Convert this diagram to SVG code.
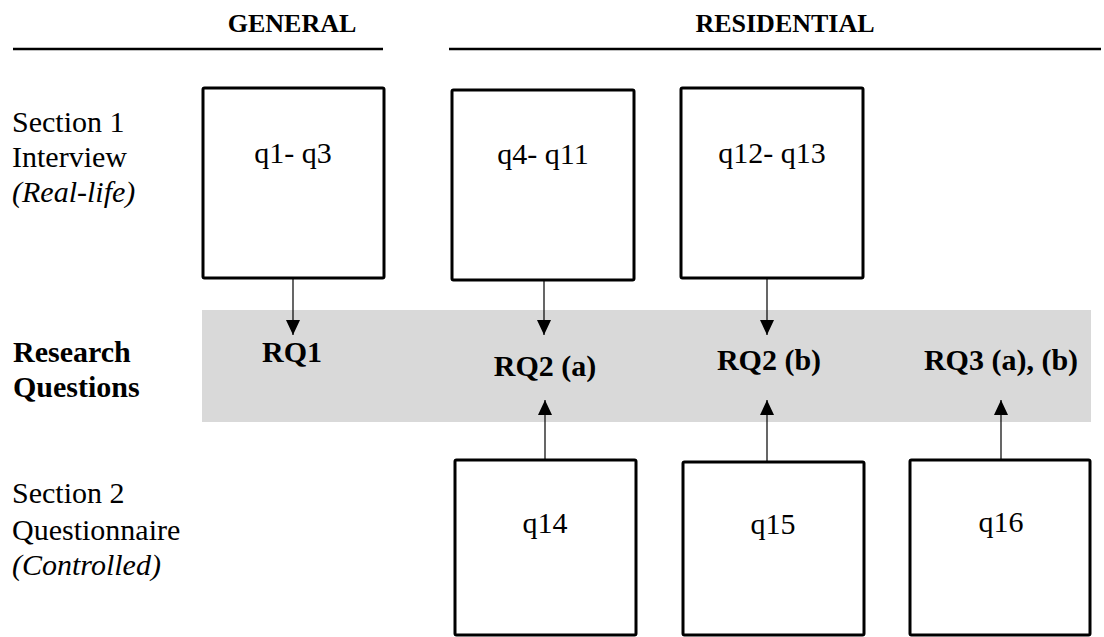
<svg xmlns="http://www.w3.org/2000/svg" width="1104" height="637" viewBox="0 0 1104 637">
  <defs>
    <marker id="arrow" viewBox="0 0 15 14" refX="15" refY="7" markerWidth="15" markerHeight="14" markerUnits="userSpaceOnUse" orient="auto">
      <path d="M0,0 L15,7 L0,14 Z" fill="#000"/>
    </marker>
    <style>
      .t { font-family: "Liberation Serif", "Times New Roman", serif; fill: #000; }
      .reg { font-size: 30px; }
      .hdr { font-size: 26px; font-weight: bold; }
      .rq { font-size: 30px; font-weight: bold; }
      .box { fill: #fff; stroke: #000; stroke-width: 3; }
      .rule { stroke: #000; stroke-width: 2.5; }
      .conn { stroke: #000; stroke-width: 1.2; fill: none; }
    </style>
  </defs>
  <rect width="1104" height="637" fill="#fff"/>

  <g id="headers">
    <text class="t hdr" x="292" y="32" text-anchor="middle">GENERAL</text>
    <line class="rule" x1="13" y1="49" x2="383" y2="49"/>
    <text class="t hdr" x="785" y="32" text-anchor="middle">RESIDENTIAL</text>
    <line class="rule" x1="449" y1="49" x2="1101" y2="49"/>
  </g>

  <g id="row-labels">
    <text class="t reg" x="12" y="132">Section 1</text>
    <text class="t reg" x="12" y="167">Interview</text>
    <text class="t reg" x="12" y="202" font-style="italic">(Real-life)</text>
    <text class="t rq" x="13" y="362">Research</text>
    <text class="t rq" x="13" y="397">Questions</text>
    <text class="t reg" x="12" y="503">Section 2</text>
    <text class="t reg" x="12" y="540">Questionnaire</text>
    <text class="t reg" x="12" y="575" font-style="italic">(Controlled)</text>
  </g>

  <g id="rq-band">
    <rect x="202" y="310" width="889" height="112" fill="#d9d9d9"/>
    <text class="t rq" x="292" y="362" text-anchor="middle">RQ1</text>
    <text class="t rq" x="545" y="376" text-anchor="middle">RQ2 (a)</text>
    <text class="t rq" x="769" y="370" text-anchor="middle">RQ2 (b)</text>
    <text class="t rq" x="1001" y="370" text-anchor="middle">RQ3 (a), (b)</text>
  </g>

  <g id="connectors">
    <line class="conn" x1="293" y1="279" x2="293" y2="335" marker-end="url(#arrow)"/>
    <line class="conn" x1="544" y1="281" x2="544" y2="335" marker-end="url(#arrow)"/>
    <line class="conn" x1="767" y1="279" x2="767" y2="335" marker-end="url(#arrow)"/>
    <line class="conn" x1="545" y1="460" x2="545" y2="400" marker-end="url(#arrow)"/>
    <line class="conn" x1="767" y1="462" x2="767" y2="400" marker-end="url(#arrow)"/>
    <line class="conn" x1="1001" y1="460" x2="1001" y2="400" marker-end="url(#arrow)"/>
  </g>

  <g id="node-q1-q3">
    <rect class="box" x="203" y="88" width="181" height="190" rx="1.5"/>
    <text class="t reg" x="293" y="163" text-anchor="middle">q1- q3</text>
  </g>
  <g id="node-q4-q11">
    <rect class="box" x="452" y="90" width="182" height="190" rx="1.5"/>
    <text class="t reg" x="543" y="164" text-anchor="middle">q4- q11</text>
  </g>
  <g id="node-q12-q13">
    <rect class="box" x="681" y="88" width="182" height="190" rx="1.5"/>
    <text class="t reg" x="772" y="163" text-anchor="middle">q12- q13</text>
  </g>
  <g id="node-q14">
    <rect class="box" x="455" y="460" width="181" height="175" rx="1.5"/>
    <text class="t reg" x="545" y="533" text-anchor="middle">q14</text>
  </g>
  <g id="node-q15">
    <rect class="box" x="683" y="462" width="181" height="173" rx="1.5"/>
    <text class="t reg" x="773" y="534" text-anchor="middle">q15</text>
  </g>
  <g id="node-q16">
    <rect class="box" x="910" y="460" width="180" height="175" rx="1.5"/>
    <text class="t reg" x="1001" y="532" text-anchor="middle">q16</text>
  </g>
</svg>
